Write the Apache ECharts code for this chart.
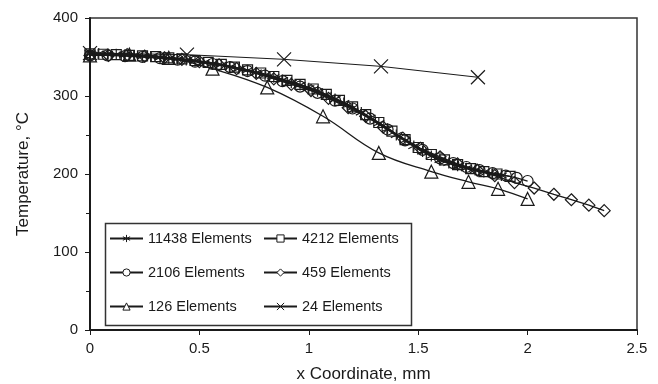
<!DOCTYPE html>
<html>
<head>
<meta charset="utf-8">
<script src="https://cdn.jsdelivr.net/npm/echarts@6/dist/echarts.min.js"></script>
<style>
  html, body { margin: 0; padding: 0; background: #ffffff; }
  #chart { width: 658px; height: 384px; }
</style>
</head>
<body>
<div id="chart"></div>
<script>
  // tick labels
  const xTicks = [0, 0.5, 1, 1.5, 2, 2.5]
  const yTicks = [0, 100, 200, 300, 400]

  // [x (mm), temperature (°C)]
  const el11438 = [
    [0, 355], [0.04, 354.5], [0.08, 354], [0.12, 353.5], [0.16, 353], [0.2, 352],
    [0.24, 351], [0.28, 350.5], [0.32, 349.5], [0.36, 348.5], [0.4, 347.5], [0.44, 346],
    [0.48, 345], [0.52, 343], [0.56, 341.5], [0.6, 340], [0.64, 337.5], [0.68, 335],
    [0.72, 333], [0.76, 330], [0.8, 327], [0.84, 324], [0.88, 320.5], [0.92, 317],
    [0.96, 314], [1.0, 310], [1.04, 306], [1.08, 301], [1.12, 296], [1.16, 291],
    [1.2, 285], [1.24, 279], [1.28, 272], [1.32, 265], [1.36, 258], [1.4, 250],
    [1.44, 243], [1.48, 236], [1.52, 229], [1.56, 223], [1.6, 218], [1.64, 214],
    [1.68, 210.5], [1.72, 207.5], [1.76, 205], [1.8, 202.5], [1.84, 200], [1.88, 198]
  ]
  const el4212 = [
    [0, 354], [0.06, 353.5], [0.12, 353], [0.18, 352], [0.24, 351.5], [0.3, 350.5],
    [0.36, 349], [0.42, 347.5], [0.48, 345.5], [0.54, 343], [0.6, 340.5], [0.66, 337],
    [0.72, 333.5], [0.78, 329.5], [0.84, 325], [0.9, 320], [0.96, 315], [1.02, 309],
    [1.08, 302], [1.14, 294.5], [1.2, 286], [1.26, 276], [1.32, 266], [1.38, 255],
    [1.44, 244], [1.5, 234], [1.56, 225], [1.62, 218], [1.68, 212], [1.74, 207],
    [1.8, 203], [1.86, 200], [1.92, 197]
  ]
  const el2106 = [
    [0, 352], [0.08, 352], [0.16, 351], [0.24, 350], [0.32, 348.5], [0.4, 346.5],
    [0.48, 344], [0.56, 341], [0.64, 337], [0.72, 332], [0.8, 326], [0.88, 319],
    [0.96, 312], [1.04, 304], [1.12, 294], [1.2, 284], [1.28, 271], [1.36, 257],
    [1.44, 243], [1.52, 231], [1.6, 220], [1.66, 214], [1.72, 209], [1.78, 205],
    [1.84, 201], [1.9, 198], [1.95, 195], [2.0, 191]
  ]
  const el459 = [
    [0, 352], [0.085, 352], [0.17, 353], [0.25, 351], [0.34, 349], [0.42, 347],
    [0.5, 344], [0.59, 340], [0.67, 335], [0.76, 329], [0.84, 322], [0.92, 315],
    [1.01, 307], [1.09, 297], [1.18, 285], [1.26, 274], [1.34, 260], [1.43, 246],
    [1.51, 233], [1.6, 222], [1.68, 213], [1.77, 205], [1.85, 198], [1.94, 189],
    [2.03, 182], [2.12, 174], [2.2, 167], [2.28, 160], [2.35, 153]
  ]
  const el126 = [
    [0, 352], [0.18, 353], [0.36, 349], [0.56, 335], [0.81, 311], [1.065, 274],
    [1.32, 227], [1.56, 203], [1.73, 190], [1.865, 181], [2.0, 168]
  ]
  const el24 = [
    [0, 355], [0.443, 353], [0.887, 347], [1.33, 338], [1.773, 324]
  ]

  const ink = '#1a1a1a'
  const font = 'Liberation Sans, Arial, sans-serif'
  const asterisk = 'path://M5,0L5,10M0.7,2.5L9.3,7.5M9.3,2.5L0.7,7.5'
  const cross = 'path://M0,0L10,10M10,0L0,10'

  function mk(name, data, symbol, size, width, smooth) {
    return {
      name: name,
      type: 'line',
      data: data,
      symbol: symbol,
      symbolSize: size,
      smooth: smooth || false,
      lineStyle: { color: ink, width: width },
      itemStyle: { color: 'rgba(0,0,0,0)', borderColor: ink, borderWidth: 1.2 },
      emphasis: { disabled: true },
      animation: false
    }
  }

  const legendCommon = {
    orient: 'vertical',
    itemWidth: 33, itemHeight: 9, itemGap: 19,
    itemStyle: { color: '#ffffff', borderColor: ink, borderWidth: 1 },
    textStyle: { fontSize: 14.5, color: ink, fontFamily: font }
  }

  let chart = echarts.init(document.getElementById('chart'))
  chart.setOption({
    backgroundColor: '#ffffff',
    textStyle: { fontFamily: font },
    grid: {
      left: 90, right: 21, top: 18, bottom: 54,
      outerBoundsMode: 'none',
      show: true, borderColor: '#333', borderWidth: 1.5
    },
    xAxis: {
      type: 'value',
      min: xTicks[0], max: xTicks[xTicks.length - 1], interval: 0.5,
      name: 'x Coordinate, mm', nameLocation: 'middle', nameGap: 36,
      nameTextStyle: { fontSize: 17, color: ink, fontFamily: font },
      axisLine: { lineStyle: { color: ink, width: 2 } },
      axisTick: { inside: false, length: 5, lineStyle: { color: ink } },
      axisLabel: { fontSize: 15, color: ink, margin: 11, fontFamily: font },
      splitLine: { show: false }
    },
    yAxis: {
      type: 'value',
      min: yTicks[0], max: yTicks[yTicks.length - 1], interval: 100,
      name: 'Temperature, °C', nameLocation: 'middle', nameGap: 58,
      nameTextStyle: { fontSize: 17, color: ink, fontFamily: font },
      axisLine: { show: true, lineStyle: { color: ink, width: 2 } },
      axisTick: { show: true, inside: false, length: 5, lineStyle: { color: ink } },
      minorTick: { show: true, splitNumber: 2, length: 4, lineStyle: { color: ink } },
      axisLabel: { fontSize: 15, color: ink, margin: 12, fontFamily: font },
      splitLine: { show: false }
    },
    legend: [
      Object.assign({ left: 104, top: 226, data: ['11438 Elements', '2106 Elements', '126 Elements'] }, legendCommon),
      Object.assign({ left: 258, top: 226, data: ['4212 Elements', '459 Elements', '24 Elements'] }, legendCommon)
    ],
    graphic: [
      {
        type: 'rect', left: 103, top: 221,
        shape: { width: 306, height: 102 },
        style: { fill: 'none', stroke: '#333', lineWidth: 1.5 }
      }
    ],
    series: [
      mk('24 Elements', el24, cross, 14, 1),
      mk('126 Elements', el126, 'triangle', 13, 1.3, 0.4),
      mk('459 Elements', el459, 'diamond', 12, 1.3),
      mk('2106 Elements', el2106, 'circle', 11, 1.3),
      mk('4212 Elements', el4212, 'rect', 10, 1.3),
      mk('11438 Elements', el11438, asterisk, 11, 2.2)
    ]
  })
  window.onresize = function () {
    chart.resize()
  }
</script>
</body>
</html>
